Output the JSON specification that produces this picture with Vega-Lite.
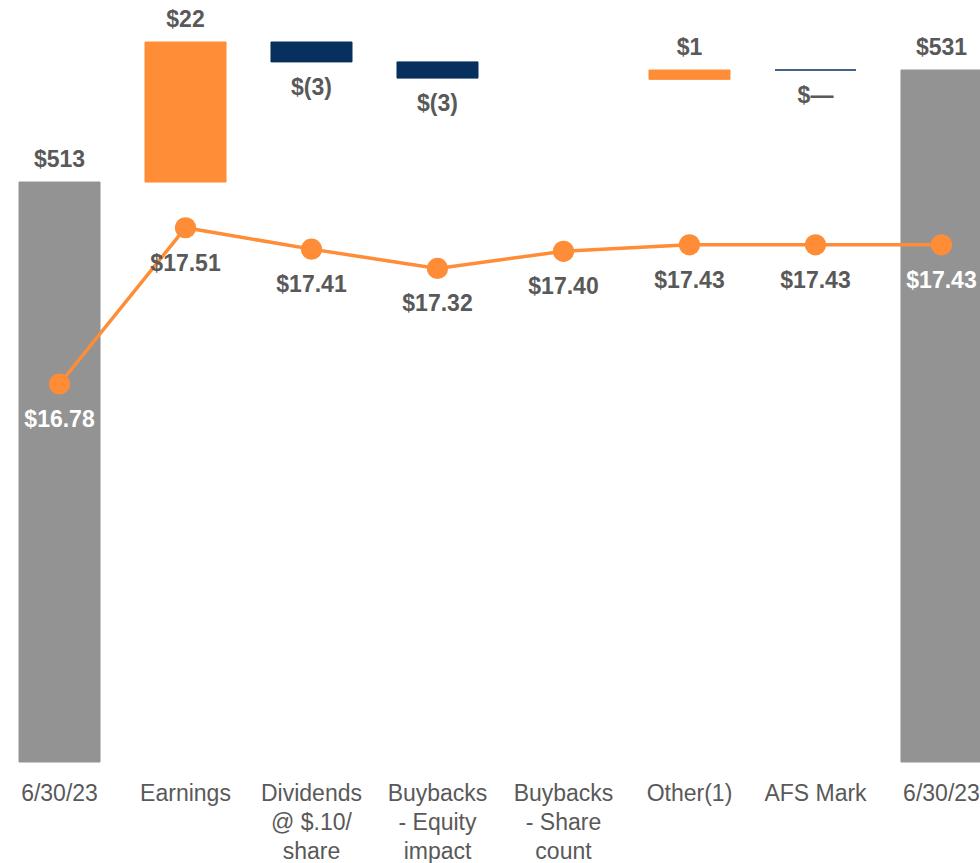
{
  "$schema": "https://vega.github.io/schema/vega-lite/v6.json",
  "width": 980,
  "height": 762,
  "autosize": {"type": "none"},
  "padding": {"left": 0, "top": 0, "right": 0, "bottom": 101},
  "background": "white",
  "config": {
    "view": {"stroke": null},
    "font": "Liberation Sans",
    "text": {"font": "Liberation Sans"}
  },
  "data": {
    "values": [
      {"cat": "6/30/23", "type": "total", "start": 0, "end": 513, "label": "$513", "bvps": 16.78},
      {"cat": "Earnings", "type": "increase", "start": 513, "end": 535.5, "label": "$22", "bvps": 17.51},
      {"cat": "Dividends|@ $.10/|share", "type": "decrease", "start": 535.5, "end": 532.3, "label": "$(3)", "bvps": 17.41},
      {"cat": "Buybacks|- Equity|impact", "type": "decrease", "start": 532.3, "end": 529.7, "label": "$(3)", "bvps": 17.32},
      {"cat": "Buybacks|- Share|count", "type": "none", "start": null, "end": null, "label": null, "bvps": 17.40},
      {"cat": "Other(1)", "type": "increase", "start": 529.5, "end": 531, "label": "$1", "bvps": 17.43},
      {"cat": "AFS Mark", "type": "decrease", "start": 531, "end": 531, "label": "$—", "bvps": 17.43},
      {"cat": "6/30/23#end", "type": "total", "start": 0, "end": 531, "label": "$531", "bvps": 17.43}
    ]
  },
  "encoding": {
    "x": {
      "field": "cat",
      "type": "nominal",
      "sort": ["6/30/23", "Earnings", "Dividends|@ $.10/|share", "Buybacks|- Equity|impact", "Buybacks|- Share|count", "Other(1)", "AFS Mark", "6/30/23#end"],
      "scale": {"range": [19, 982], "paddingInner": 0.357, "paddingOuter": 0},
      "axis": {
        "title": null,
        "domain": false,
        "ticks": false,
        "tickSize": 0,
        "labelAngle": 0,
        "labelPadding": 20,
        "labelBaseline": "top",
        "labelFontSize": 23,
        "labelFont": "Liberation Sans",
        "labelColor": "#595959",
        "labelLineHeight": 29,
        "labelOverlap": false,
        "labelExpr": "split(replace(datum.value, '#end', ''), '|')"
      }
    }
  },
  "layer": [
    {
      "transform": [{"filter": "datum.type !== 'none'"}],
      "layer": [
        {
          "mark": {"type": "bar", "strokeWidth": 1},
          "encoding": {
            "y": {"field": "start", "type": "quantitative", "scale": {"domain": [419.8, 542.25], "zero": false, "clamp": true, "nice": false}, "axis": null},
            "y2": {"field": "end"},
            "color": {"field": "type", "type": "nominal", "scale": {"domain": ["total", "increase", "decrease"], "range": ["#939393", "#FF8C36", "#08305F"]}, "legend": null},
            "stroke": {"field": "type", "type": "nominal", "scale": {"domain": ["total", "increase", "decrease"], "range": ["#939393", "#FF8C36", "#08305F"]}, "legend": null}
          }
        },
        {
          "transform": [{"filter": "datum.type !== 'decrease'"}],
          "mark": {"type": "text", "fontSize": 23, "fontWeight": "bold", "color": "#595959", "baseline": "middle", "dy": -22.4},
          "encoding": {
            "y": {"field": "end", "type": "quantitative"},
            "text": {"field": "label"}
          }
        },
        {
          "transform": [{"filter": "datum.type === 'decrease'"}],
          "mark": {"type": "text", "fontSize": 23, "fontWeight": "bold", "color": "#595959", "baseline": "middle", "dy": 26},
          "encoding": {
            "y": {"field": "end", "type": "quantitative"},
            "text": {"field": "label"}
          }
        }
      ]
    },
    {
      "encoding": {
        "y": {"field": "bvps", "type": "quantitative", "scale": {"domain": [15.014, 18.574], "zero": false, "nice": false}, "axis": null}
      },
      "layer": [
        {
          "mark": {"type": "line", "color": "#FF8C36", "strokeWidth": 3.5}
        },
        {
          "mark": {"type": "circle", "color": "#FF8C36", "size": 450, "opacity": 1}
        },
        {
          "mark": {"type": "text", "fontSize": 23, "fontWeight": "bold", "baseline": "middle", "dy": 35.8},
          "encoding": {
            "text": {"field": "bvps", "type": "quantitative", "format": "$.2f"},
            "color": {"condition": {"test": "datum.type === 'total'", "value": "#FFFFFF"}, "value": "#595959"}
          }
        }
      ]
    }
  ],
  "resolve": {"scale": {"y": "independent"}}
}
